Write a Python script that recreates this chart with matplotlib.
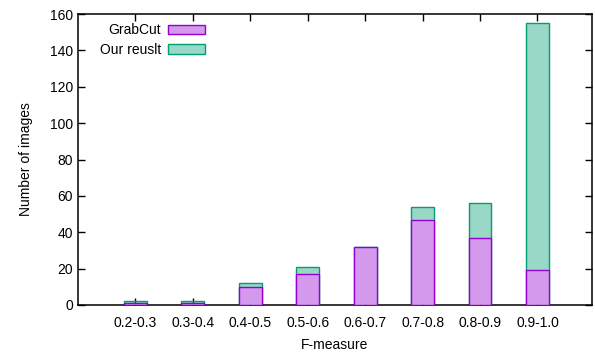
import matplotlib.pyplot as plt
from matplotlib.patches import Patch
import numpy as np

plt.rcParams['font.family'] = ['Liberation Sans', 'DejaVu Sans']

categories = ["0.2-0.3", "0.3-0.4", "0.4-0.5", "0.5-0.6", "0.6-0.7", "0.7-0.8", "0.8-0.9", "0.9-1.0"]
grabcut = [1, 1, 10, 17, 32, 47, 37, 19]
ours = [2, 2, 12, 21, 32, 54, 56, 155]

purple = "#9400d3"
green = "#009e73"

fig = plt.figure(figsize=(5.95, 3.56), dpi=100)
ax = fig.add_axes([78 / 595, 1 - 305 / 356, (592 - 78) / 595, (305 - 14) / 356])

x = np.arange(len(categories))
w = 0.4
ax.bar(x, ours, w, color=green, alpha=0.4, linewidth=0, zorder=2)
ax.bar(x, ours, w, fill=False, edgecolor=green, linewidth=1.0, zorder=2)
ax.bar(x, grabcut, w, color="white", linewidth=0, zorder=3)
ax.bar(x, grabcut, w, color=purple, alpha=0.4, linewidth=0, zorder=3)
ax.bar(x, grabcut, w, fill=False, edgecolor=purple, linewidth=1.0, zorder=3)

ax.set_xlim(-1, 7.95)
ax.set_ylim(0, 160)
ax.set_yticks(range(0, 161, 20))
ax.set_xticks(x)
ax.set_xticklabels(categories)
ax.tick_params(direction="in", top=True, right=True, length=5, labelsize=10, width=1)
ax.tick_params(axis="x", pad=8)
for s in ax.spines.values():
    s.set_linewidth(1.1)

ax.set_xlabel("F-measure", fontsize=10, labelpad=6)
ax.set_ylabel("Number of images", fontsize=10, labelpad=12)

handles = [Patch(facecolor=(0.58, 0, 0.83, 0.4), edgecolor=purple, linewidth=1.0),
           Patch(facecolor=(0, 0.62, 0.45, 0.4), edgecolor=green, linewidth=1.0)]
ax.legend(handles, ["GrabCut", "Our reuslt"], loc="upper left", bbox_to_anchor=(0.043, 0.968),
          markerfirst=False, frameon=False, fontsize=10, handlelength=2.66, handleheight=0.65,
          labelspacing=0.4, handletextpad=0.5, borderaxespad=0, borderpad=0)

fig.savefig("out.png", dpi=100)
